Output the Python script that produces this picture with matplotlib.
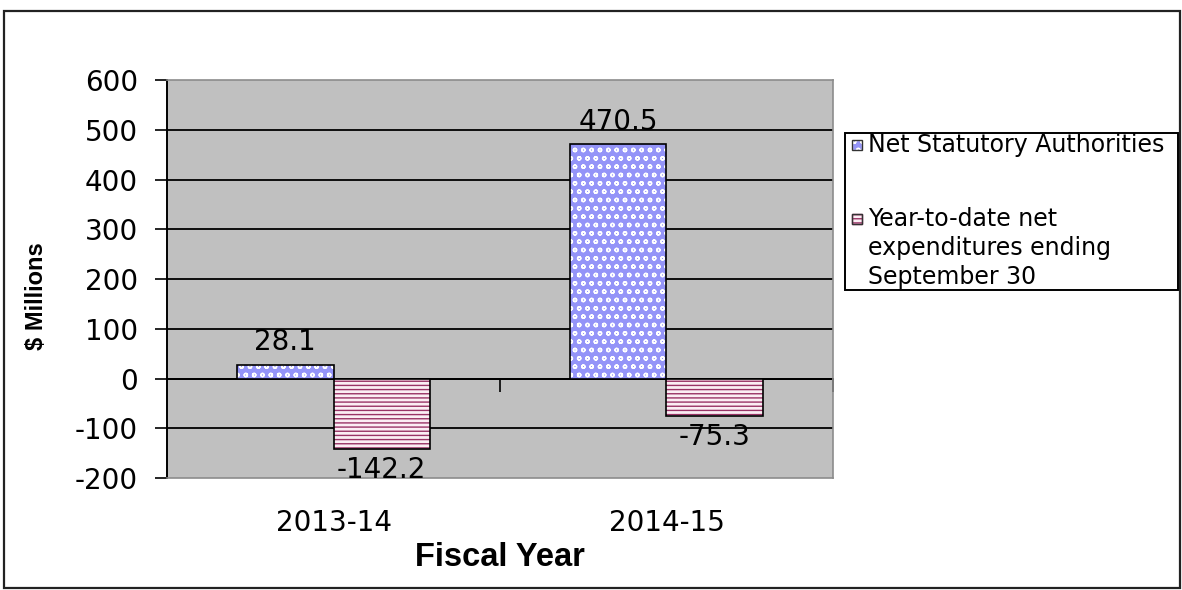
import numpy as np
import matplotlib
matplotlib.use('Agg')
import matplotlib.pyplot as plt
import matplotlib.patches as mpatches

plt.rcParams['font.family'] = ['DejaVu Sans']
plt.rcParams['hatch.linewidth'] = 1.0

# ── Data ──────────────────────────────────────────────────────────────────
years = ["2013-14", "2014-15"]
net_statutory = [28.1, 470.5]
ytd_expend = [-142.2, -75.3]
label_net = "Net Statutory Authorities"
label_ytd = ["Year-to-date net", "expenditures ending", "September 30"]
yticks = [-200, -100, 0, 100, 200, 300, 400, 500, 600]

BLUE = "#9494f8"
PLUM = "#993366"
PINK = "#fbeef4"
GREY_BG = "#c0c0c0"
NUM_FS = 20

fig = plt.figure(figsize=(11.82, 5.90), dpi=100)
fig.patch.set_facecolor("white")
# outer chart border
fig.add_artist(mpatches.Rectangle((0.003, 0.004), 0.995, 0.978, transform=fig.transFigure,
                                  fill=False, edgecolor="#222222", linewidth=1.6))

ax = fig.add_axes([0.1413, 0.1898, 0.5634, 0.6746])
ax.set_facecolor(GREY_BG)
x = np.arange(len(years))
w = 0.29

# blue series: white hatch over blue, outline drawn separately
ax.bar(x - w/2, net_statutory, w, color=BLUE, edgecolor="white", hatch="oo",
       linewidth=0, zorder=3)
ax.bar(x - w/2, net_statutory, w, fill=False, edgecolor="black", linewidth=1.2, zorder=4)
# plum series: wavy pattern approximated with dense horizontal hatch
ax.bar(x + w/2, ytd_expend, w, color=PINK, edgecolor=PLUM, hatch="----",
       linewidth=0, zorder=3)
ax.bar(x + w/2, ytd_expend, w, fill=False, edgecolor="black", linewidth=1.2, zorder=4)

for xi, v in zip(x, net_statutory):
    ax.text(xi - w/2, v + 17, f"{v:.1f}", ha="center", va="bottom", fontsize=NUM_FS, zorder=5)
for xi, v in zip(x, ytd_expend):
    ax.text(xi + w/2, v - 14, f"{v:.1f}", ha="center", va="top", fontsize=NUM_FS, zorder=5)

ax.set_xlim(-0.5, 1.5)
ax.set_ylim(-200, 600)
ax.set_yticks(yticks)
ax.set_yticklabels([str(t) for t in yticks], fontsize=NUM_FS)
ax.tick_params(axis="y", direction="out", length=9, width=1.2, pad=12)
for t in yticks[1:-1]:
    ax.axhline(t, color="black", linewidth=1.3, zorder=2)

ax.set_xticks(x)
ax.set_xticklabels(years, fontsize=NUM_FS)
ax.tick_params(axis="x", length=0, pad=22)

# category axis crossing at zero with boundary ticks
sec = ax.secondary_xaxis(0.25)
sec.set_xticks([0.5, 1.5])
sec.set_xticklabels([])
sec.tick_params(axis="x", direction="out", length=9, width=1.2)
sec.spines["bottom"].set_linewidth(1.3)

for side in ["top", "right", "bottom"]:
    ax.spines[side].set_color("#8c8c8c")
    ax.spines[side].set_linewidth(1.2)
ax.spines["left"].set_color("black")
ax.spines["left"].set_linewidth(1.4)

ax.set_xlabel("Fiscal Year", fontsize=23.5, fontweight="bold", labelpad=4,
              family="Liberation Sans")
ax.set_ylabel("$ Millions", fontsize=17, fontweight="bold", family="Liberation Sans")
ax.yaxis.set_label_coords(-0.178, 0.457)

# ── Legend (built by hand so the marker sits on the first text line) ──────
LEG_FS = 17
fig.add_artist(mpatches.Rectangle((0.7149, 0.5085), 0.2817, 0.2661, transform=fig.transFigure,
                                  fill=False, edgecolor="black", linewidth=1.4))
def legend_key(y_center, face, edge, hatch):
    size_w, size_h = 10 / 1182, 10 / 590
    fig.add_artist(mpatches.Rectangle((0.7208, y_center - size_h / 2), size_w, size_h,
                                      transform=fig.transFigure, facecolor=face,
                                      edgecolor=edge, hatch=hatch, linewidth=1.0))
    fig.add_artist(mpatches.Rectangle((0.7208, y_center - size_h / 2), size_w, size_h,
                                      transform=fig.transFigure, fill=False,
                                      edgecolor="#333333", linewidth=1.0))

y_net = 1 - 145 / 590
legend_key(y_net, BLUE, "white", "oo")
fig.text(0.7345, y_net, label_net, fontsize=LEG_FS, va="center", ha="left")

y_ytd = 1 - 219 / 590
legend_key(y_ytd, PINK, PLUM, "----")
for i, line in enumerate(label_ytd):
    fig.text(0.7345, y_ytd - i * 29 / 590, line, fontsize=LEG_FS, va="center", ha="left")

fig.savefig("out.png", dpi=100)
